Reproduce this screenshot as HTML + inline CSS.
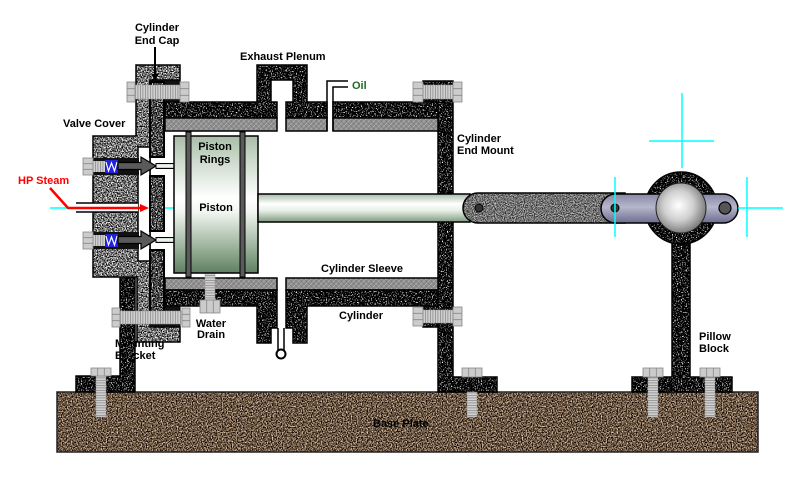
<!DOCTYPE html>
<html><head><meta charset="utf-8"><style>
html,body{margin:0;padding:0;background:#fff;}
svg{display:block;}
text{font-family:"Liberation Sans",Arial,sans-serif;font-weight:bold;font-size:11px;fill:#000;}
</style></head><body>
<svg width="800" height="483" viewBox="0 0 800 483" xmlns="http://www.w3.org/2000/svg">
<defs>
 <filter id="fDark" x="0" y="0" width="1" height="1" color-interpolation-filters="sRGB">
  <feTurbulence type="fractalNoise" baseFrequency="0.8" numOctaves="2" seed="3"/>
  <feColorMatrix type="matrix" values="6 0 0 0 -3.4  6 0 0 0 -3.4  6 0 0 0 -3.4  0 0 0 0 1"/>
 </filter>
 <filter id="fLight" x="0" y="0" width="1" height="1" color-interpolation-filters="sRGB">
  <feTurbulence type="fractalNoise" baseFrequency="0.8" numOctaves="2" seed="7"/>
  <feColorMatrix type="matrix" values="3 0 0 0 -1.05  3 0 0 0 -1.05  3 0 0 0 -1.05  0 0 0 0 1"/>
 </filter>
 <filter id="fMid" x="0" y="0" width="1" height="1" color-interpolation-filters="sRGB">
  <feTurbulence type="fractalNoise" baseFrequency="0.8" numOctaves="2" seed="11"/>
  <feColorMatrix type="matrix" values="3 0 0 0 -1.25  3 0 0 0 -1.25  3 0 0 0 -1.25  0 0 0 0 1"/>
 </filter>
 <filter id="fRod" x="0" y="0" width="1" height="1" color-interpolation-filters="sRGB">
  <feTurbulence type="fractalNoise" baseFrequency="0.9" numOctaves="2" seed="5"/>
  <feColorMatrix type="matrix" values="1.5 0 0 0 -0.3  1.5 0 0 0 -0.3  1.5 0 0 0 -0.3  0 0 0 0 1"/>
 </filter>
 <filter id="fBrown" x="0" y="0" width="1" height="1" color-interpolation-filters="sRGB">
  <feTurbulence type="fractalNoise" baseFrequency="0.8" numOctaves="2" seed="9"/>
  <feColorMatrix type="matrix" values="2 0 0 0 -0.58  2 0 0 0 -0.66  2 0 0 0 -0.74  0 0 0 0 1"/>
 </filter>
 <pattern id="pDark" patternUnits="userSpaceOnUse" width="200" height="200"><rect width="200" height="200" filter="url(#fDark)"/></pattern>
 <pattern id="pLight" patternUnits="userSpaceOnUse" width="200" height="200"><rect width="200" height="200" filter="url(#fLight)"/></pattern>
 <pattern id="pMid" patternUnits="userSpaceOnUse" width="200" height="200"><rect width="200" height="200" filter="url(#fMid)"/></pattern>
 <pattern id="pRod" patternUnits="userSpaceOnUse" width="200" height="200"><rect width="200" height="200" filter="url(#fRod)"/></pattern>
 <pattern id="pBrown" patternUnits="userSpaceOnUse" width="250" height="100"><rect width="250" height="100" filter="url(#fBrown)"/></pattern>
 <pattern id="pHatch" patternUnits="userSpaceOnUse" width="5" height="5">
  <rect width="5" height="5" fill="#8e8e8e"/>
  <path d="M0,5 L5,0 M-1,1 L1,-1 M4,6 L6,4" stroke="#b0b0b0" stroke-width="0.8"/>
  <path d="M0,0 L5,5" stroke="#777" stroke-width="0.6"/>
 </pattern>
 <pattern id="pThV" patternUnits="userSpaceOnUse" width="2.5" height="10">
  <rect width="2.5" height="10" fill="#d0d0d0"/><rect width="0.8" height="10" fill="#8c8c8c"/>
 </pattern>
 <pattern id="pThH" patternUnits="userSpaceOnUse" width="10" height="2.5">
  <rect width="10" height="2.5" fill="#d0d0d0"/><rect width="10" height="0.8" fill="#8c8c8c"/>
 </pattern>
 <linearGradient id="gPiston" x1="0" y1="0" x2="0" y2="1">
  <stop offset="0" stop-color="#a8bca8"/><stop offset="0.15" stop-color="#c6d6c6"/>
  <stop offset="0.45" stop-color="#ffffff"/><stop offset="0.55" stop-color="#f2f7f2"/>
  <stop offset="0.85" stop-color="#8fa88f"/><stop offset="1" stop-color="#5f7f62"/>
 </linearGradient>
 <linearGradient id="gRod" x1="0" y1="0" x2="0" y2="1">
  <stop offset="0" stop-color="#a8bca8"/><stop offset="0.35" stop-color="#ffffff"/>
  <stop offset="0.6" stop-color="#e6eee6"/><stop offset="1" stop-color="#7f9a80"/>
 </linearGradient>
 <linearGradient id="gTube" x1="0" y1="0" x2="0" y2="1">
  <stop offset="0" stop-color="#b8ccb8"/><stop offset="0.5" stop-color="#ffffff"/><stop offset="1" stop-color="#9ab49a"/>
 </linearGradient>
 <linearGradient id="gCrank" x1="0" y1="0" x2="0" y2="1">
  <stop offset="0" stop-color="#8888a6"/><stop offset="0.45" stop-color="#b6b6cc"/><stop offset="1" stop-color="#6c6c8e"/>
 </linearGradient>
 <radialGradient id="gBall" cx="0.45" cy="0.45" r="0.6">
  <stop offset="0" stop-color="#ffffff"/><stop offset="0.5" stop-color="#cfcfcf"/><stop offset="1" stop-color="#6e6e6e"/>
 </radialGradient>
</defs>
<rect width="800" height="483" fill="#fff"/>

<!-- text covered by bracket -->
<text x="115" y="347">Mounting</text>
<text x="115" y="359">Bracket</text>

<!-- Base plate -->
<rect x="57" y="392" width="701" height="60" fill="url(#pBrown)" stroke="#222" stroke-width="1.5"/>

<!-- Mounting bracket -->
<path d="M120,277 H135 V392 H76 V376 H120 Z" fill="url(#pDark)" stroke="#000" stroke-width="1.5"/>
<!-- End mount -->
<path d="M423,81 H453 V377 H497 V392 H438 V327 H423 V306 H438 V102 H423 Z" fill="url(#pDark)" stroke="#000" stroke-width="1.5"/>
<!-- Pillow block -->
<path d="M672,236 H690 V377 H732 V392 H632 V377 H672 Z" fill="url(#pDark)" stroke="#000" stroke-width="1.5"/>
<circle cx="681" cy="208" r="36" fill="url(#pDark)" stroke="#000" stroke-width="1.5"/>

<!-- foot bolts -->
<rect x="96" y="376" width="10" height="41" fill="url(#pThH)" stroke="#999" stroke-width="0.5"/>
<rect x="91" y="368" width="20" height="8" fill="#cccccc" stroke="#888" stroke-width="0.8"/>
<path d="M97.7,368 V376 M104.3,368 V376" stroke="#888" stroke-width="0.8"/>
<rect x="467" y="392" width="10" height="25" fill="url(#pThH)" stroke="#999" stroke-width="0.5"/>
<rect x="462" y="368" width="20" height="9" fill="#cccccc" stroke="#888" stroke-width="0.8"/>
<path d="M468.7,368 V377 M475.3,368 V377" stroke="#888" stroke-width="0.8"/>
<rect x="648" y="376" width="10" height="41" fill="url(#pThH)" stroke="#999" stroke-width="0.5"/>
<rect x="643" y="368" width="20" height="9" fill="#cccccc" stroke="#888" stroke-width="0.8"/>
<path d="M649.7,368 V377 M656.3,368 V377" stroke="#888" stroke-width="0.8"/>
<rect x="705" y="376" width="10" height="41" fill="url(#pThH)" stroke="#999" stroke-width="0.5"/>
<rect x="700" y="368" width="20" height="9" fill="#cccccc" stroke="#888" stroke-width="0.8"/>
<path d="M706.7,368 V377 M713.3,368 V377" stroke="#888" stroke-width="0.8"/>

<!-- Cylinder top wall with exhaust plenum -->
<path d="M165,102 H257 V65 H307 V102 H327 V118 H286 V102 H293 V80 H271 V102 H277 V118 H165 Z" fill="url(#pDark)" stroke="#000" stroke-width="1.5"/>
<rect x="333" y="102" width="105" height="16" fill="url(#pDark)" stroke="#000" stroke-width="1.5"/>
<rect x="165" y="118" width="112" height="13" fill="url(#pHatch)" stroke="#000" stroke-width="1.5"/>
<rect x="286" y="118" width="41" height="13" fill="url(#pHatch)" stroke="#000" stroke-width="1.5"/>
<rect x="333" y="118" width="105" height="13" fill="url(#pHatch)" stroke="#000" stroke-width="1.5"/>
<!-- oil lines -->
<path d="M327,131 V81 H348 M333,131 V87 H348" fill="none" stroke="#000" stroke-width="1.5"/>

<!-- Cylinder bottom wall with drain -->
<rect x="165" y="278" width="112" height="12" fill="url(#pHatch)" stroke="#000" stroke-width="1.5"/>
<rect x="286" y="278" width="152" height="12" fill="url(#pHatch)" stroke="#000" stroke-width="1.5"/>
<path d="M165,290 H277 V328 H271 V343 H257 V306 H165 Z" fill="url(#pDark)" stroke="#000" stroke-width="1.5"/>
<path d="M286,290 H438 V306 H307 V343 H293 V328 H286 Z" fill="url(#pDark)" stroke="#000" stroke-width="1.5"/>
<path d="M278,328 V350 M284,328 V350" stroke="#000" stroke-width="1.5"/>
<circle cx="281" cy="354" r="4.5" fill="#fff" stroke="#000" stroke-width="2"/>

<!-- End cap + valve cover -->
<path d="M93,136 H136 V65 H180 V80 H150 V327 H180 V342 H137 V277 H93 Z" fill="url(#pLight)" stroke="#000" stroke-width="1.5"/>
<!-- steam chest -->
<rect x="138" y="147" width="12" height="114" fill="#fff" stroke="#000" stroke-width="1.5"/>
<!-- black regions near bolts -->
<rect x="150" y="80" width="30" height="22" fill="#111" stroke="#000" stroke-width="1"/>
<rect x="150" y="306" width="30" height="21" fill="#111" stroke="#000" stroke-width="1"/>
<!-- inner end cap strip -->
<rect x="150" y="82" width="14" height="75" fill="url(#pMid)" stroke="#000" stroke-width="2"/>
<rect x="150" y="176" width="14" height="55" fill="url(#pMid)" stroke="#000" stroke-width="2"/>
<rect x="150" y="250" width="14" height="72" fill="url(#pMid)" stroke="#000" stroke-width="2"/>

<!-- HP steam channel -->
<rect x="76" y="203" width="62" height="9" fill="#fff"/>
<path d="M76,203 H138 M76,212 H138" stroke="#000" stroke-width="1.5"/>

<!-- upper valve -->
<rect x="93" y="158" width="46" height="17" fill="#111"/>
<rect x="93" y="161" width="12" height="11" fill="url(#pThV)"/>
<rect x="83" y="158" width="10" height="17" fill="#cccccc" stroke="#888" stroke-width="0.8"/>
<path d="M83,163.7 H93 M83,169.3 H93" stroke="#888" stroke-width="0.8"/>
<rect x="105" y="160" width="13" height="13" fill="#2222dd"/>
<path d="M106,162 L108.5,171 L111.5,163 L114.5,171 L117,162" fill="none" stroke="#fff" stroke-width="1.2"/>
<path d="M118,162.5 H141 V157 L156,166 L141,175 V169.5 H118 Z" fill="#5a5a5a" stroke="#000" stroke-width="1.2"/>
<rect x="156" y="163.5" width="19" height="5" fill="url(#gTube)" stroke="#000" stroke-width="1"/>

<!-- lower valve -->
<rect x="93" y="232" width="46" height="17" fill="#111"/>
<rect x="93" y="235" width="12" height="11" fill="url(#pThV)"/>
<rect x="83" y="232" width="10" height="17" fill="#cccccc" stroke="#888" stroke-width="0.8"/>
<path d="M83,237.7 H93 M83,243.3 H93" stroke="#888" stroke-width="0.8"/>
<rect x="105" y="234" width="13" height="13" fill="#2222dd"/>
<path d="M106,236 L108.5,245 L111.5,237 L114.5,245 L117,236" fill="none" stroke="#fff" stroke-width="1.2"/>
<path d="M118,236.5 H141 V231 L156,240 L141,249 V243.5 H118 Z" fill="#5a5a5a" stroke="#000" stroke-width="1.2"/>
<rect x="156" y="237.5" width="19" height="5" fill="url(#gTube)" stroke="#000" stroke-width="1"/>

<!-- end cap bolts -->
<rect x="135" y="85" width="45" height="14" fill="url(#pThV)" stroke="#999" stroke-width="0.5"/>
<rect x="127" y="82" width="8" height="20" fill="#cccccc" stroke="#888" stroke-width="0.8"/>
<path d="M127,88.7 H135 M127,95.3 H135" stroke="#888" stroke-width="0.8"/>
<rect x="180" y="82" width="9" height="20" fill="#cccccc" stroke="#888" stroke-width="0.8"/>
<path d="M180,88.7 H189 M180,95.3 H189" stroke="#888" stroke-width="0.8"/>

<rect x="120" y="311" width="62" height="13" fill="url(#pThV)" stroke="#999" stroke-width="0.5"/>
<rect x="112" y="308" width="8" height="19" fill="#cccccc" stroke="#888" stroke-width="0.8"/>
<path d="M112,314.3 H120 M112,320.7 H120" stroke="#888" stroke-width="0.8"/>
<rect x="182" y="308" width="8" height="19" fill="#cccccc" stroke="#888" stroke-width="0.8"/>
<path d="M182,314.3 H190 M182,320.7 H190" stroke="#888" stroke-width="0.8"/>

<!-- end mount bolts -->
<rect x="423" y="85" width="30" height="14" fill="url(#pThV)" stroke="#999" stroke-width="0.5"/>
<rect x="413" y="82" width="10" height="20" fill="#cccccc" stroke="#888" stroke-width="0.8"/>
<path d="M413,88.7 H423 M413,95.3 H423" stroke="#888" stroke-width="0.8"/>
<rect x="453" y="82" width="9" height="20" fill="#cccccc" stroke="#888" stroke-width="0.8"/>
<path d="M453,88.7 H462 M453,95.3 H462" stroke="#888" stroke-width="0.8"/>
<rect x="423" y="310" width="30" height="13" fill="url(#pThV)" stroke="#999" stroke-width="0.5"/>
<rect x="413" y="307" width="10" height="19" fill="#cccccc" stroke="#888" stroke-width="0.8"/>
<path d="M413,313.3 H423 M413,319.7 H423" stroke="#888" stroke-width="0.8"/>
<rect x="453" y="307" width="9" height="19" fill="#cccccc" stroke="#888" stroke-width="0.8"/>
<path d="M453,313.3 H462 M453,319.7 H462" stroke="#888" stroke-width="0.8"/>

<!-- water drain bolt -->
<rect x="205" y="273" width="10" height="27" fill="url(#pThH)" stroke="#999" stroke-width="0.5"/>
<rect x="200" y="300" width="20" height="13" fill="#cccccc" stroke="#888" stroke-width="0.8"/>
<path d="M206.7,300 V313 M213.3,300 V313" stroke="#888" stroke-width="0.8"/>

<!-- cyan center line left -->
<path d="M50,208 H68 M165,208 H175" stroke="#00ffff" stroke-width="1.5"/>

<!-- Piston -->
<rect x="174" y="136" width="84" height="137" fill="url(#gPiston)" stroke="#000" stroke-width="1.5"/>
<rect x="186" y="132" width="5" height="145" fill="#5a5a5a" stroke="#000" stroke-width="1"/>
<rect x="240" y="132" width="5" height="145" fill="#5a5a5a" stroke="#000" stroke-width="1"/>

<!-- Piston rod -->
<rect x="258" y="194" width="212" height="28" fill="url(#gRod)" stroke="#000" stroke-width="1.5"/>

<!-- Connecting rod -->
<path d="M478,193 H625 V223 H478 A15,15 0 0 1 478,193 Z" fill="url(#pRod)" stroke="#000" stroke-width="1.5"/>
<circle cx="479" cy="208" r="4" fill="#333" stroke="#000" stroke-width="1"/>

<!-- Crank arm -->
<rect x="601" y="194" width="137" height="29" rx="14.5" ry="14.5" fill="url(#gCrank)" stroke="#000" stroke-width="1.5"/>
<circle cx="615" cy="208" r="4" fill="#333" stroke="#000" stroke-width="1"/>
<circle cx="725" cy="208" r="6" fill="#555" stroke="#000" stroke-width="1.2"/>
<circle cx="681" cy="208" r="25" fill="url(#gBall)" stroke="#222" stroke-width="1"/>

<!-- cyan crosshairs -->
<path d="M682,93 V168 M649,141 H714 M615,177 V237 M747,177 V237 M738,208 H783" stroke="#00ffff" stroke-width="1.5"/>

<!-- HP Steam arrow -->
<path d="M50,188 L68,208 H143" fill="none" stroke="#ff0000" stroke-width="2.5"/>
<path d="M140,204 L149,208 L140,212 Z" fill="#ff0000"/>

<!-- End cap pointer -->
<path d="M155,47 V76" stroke="#000" stroke-width="2"/>
<path d="M151.5,74 L158.5,74 L155,81 Z" fill="#000"/>

<!-- Labels -->
<text x="157" y="31" text-anchor="middle">Cylinder</text>
<text x="157" y="44" text-anchor="middle">End Cap</text>
<text x="240" y="60">Exhaust Plenum</text>
<text x="352" y="89" style="fill:#1f6b1f">Oil</text>
<text x="63" y="127">Valve Cover</text>
<text x="18" y="184" style="fill:#ff0000">HP Steam</text>
<text x="215" y="150" text-anchor="middle">Piston</text>
<text x="215" y="163" text-anchor="middle">Rings</text>
<text x="216" y="211" text-anchor="middle">Piston</text>
<text x="457" y="142">Cylinder</text>
<text x="457" y="154">End Mount</text>
<text x="321" y="272">Cylinder Sleeve</text>
<text x="339" y="319">Cylinder</text>
<text x="211" y="327" text-anchor="middle">Water</text>
<text x="211" y="338" text-anchor="middle">Drain</text>
<text x="699" y="340">Pillow</text>
<text x="699" y="352">Block</text>
<text x="373" y="427">Base Plate</text>
</svg>
</body></html>
